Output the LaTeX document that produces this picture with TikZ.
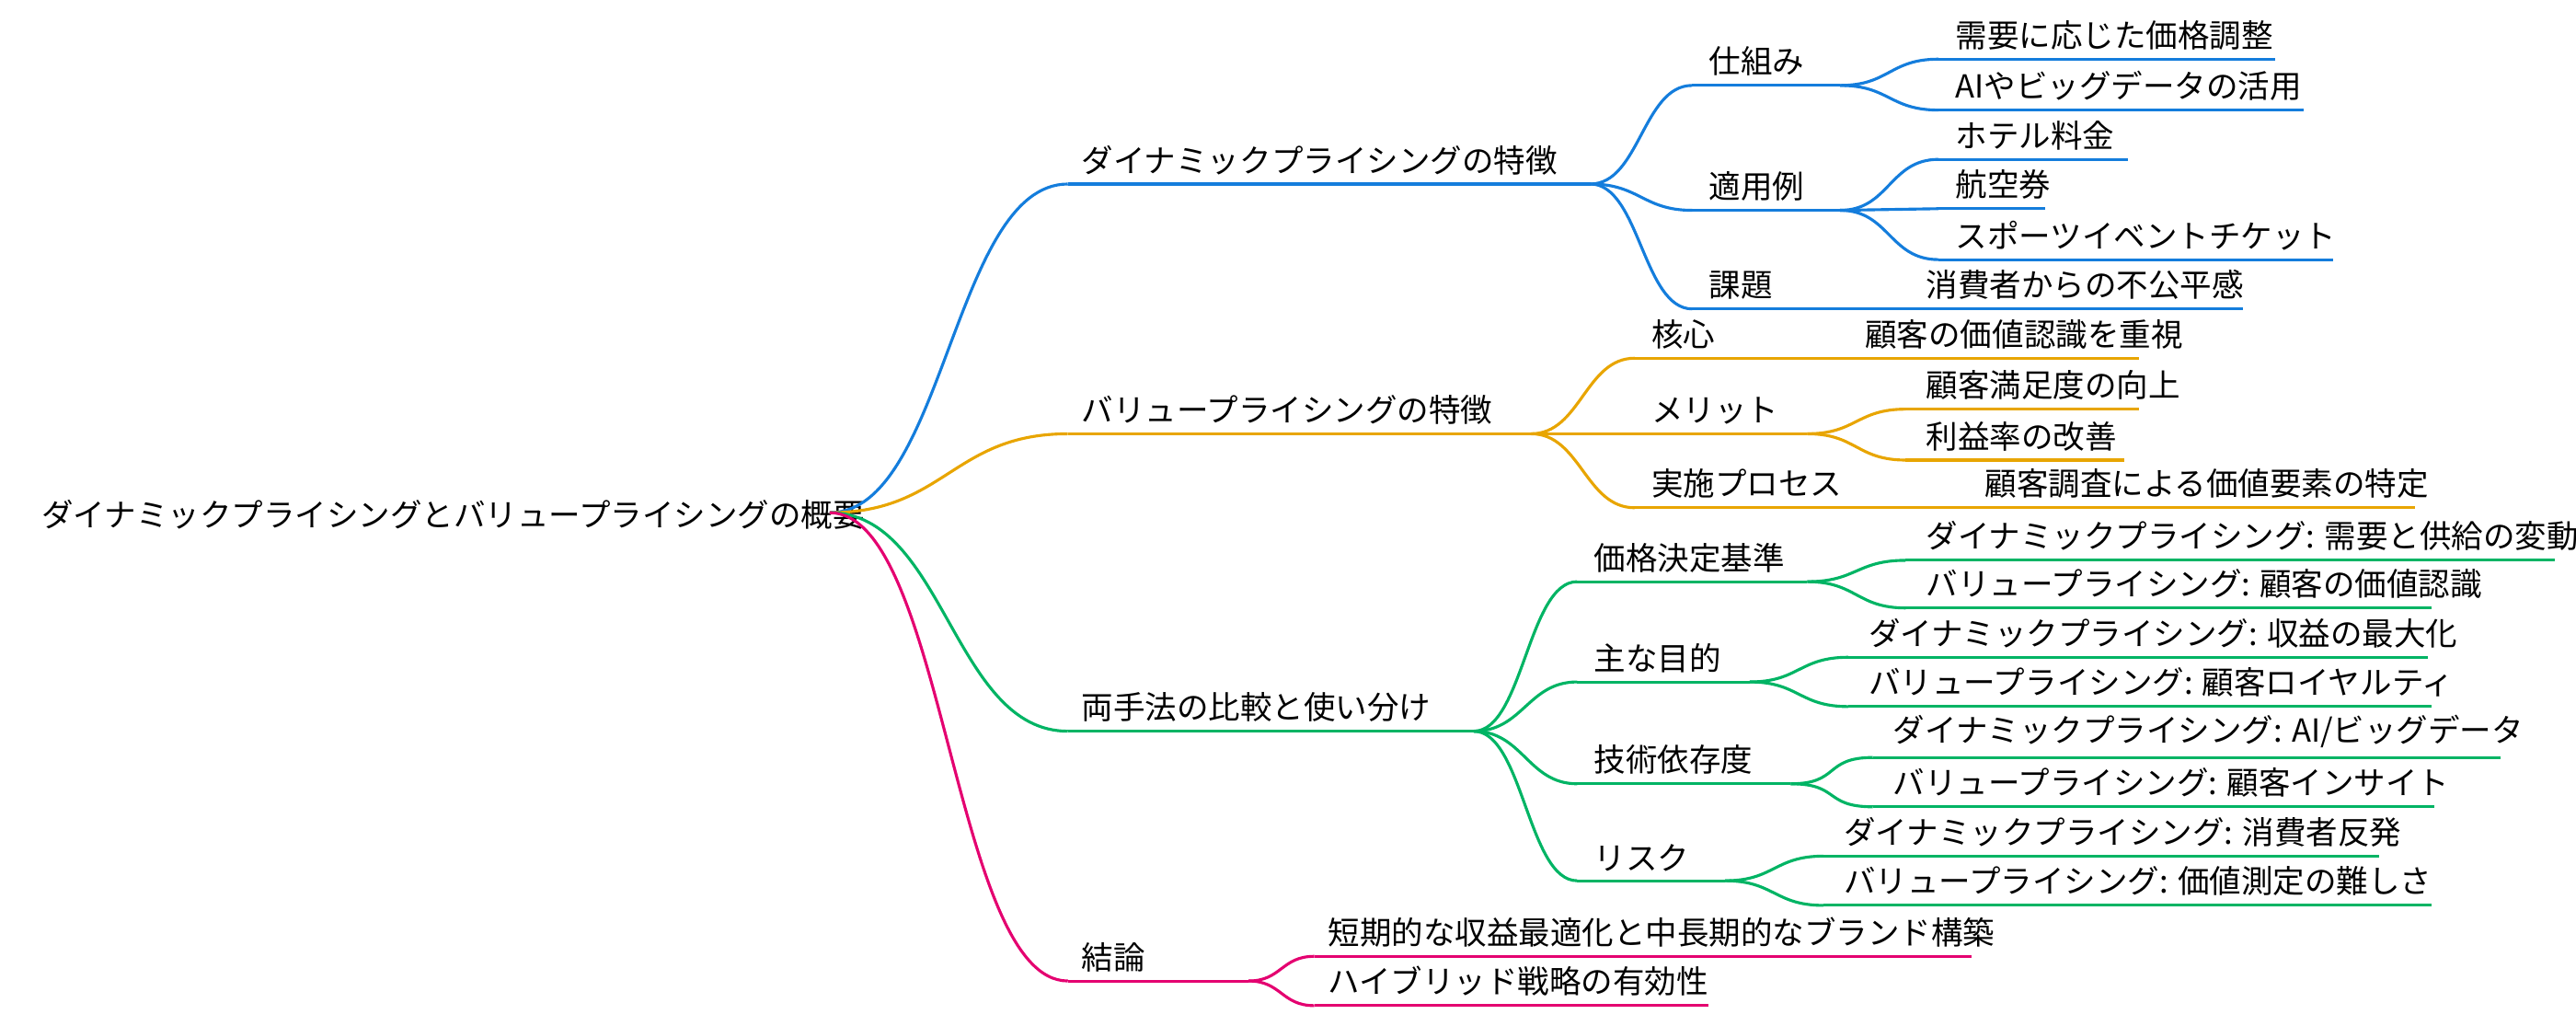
\documentclass[tikz,border=0pt]{standalone}
\usepackage{fontspec}
\setmainfont{Noto Sans CJK JP}
\definecolor{cblue}{RGB}{20,125,220}
\definecolor{corange}{RGB}{232,165,0}
\definecolor{cgreen}{RGB}{0,180,100}
\definecolor{cpink}{RGB}{228,0,112}
\tikzset{
  branch/.style={line width=1pt},
  label/.style={anchor=south west,inner xsep=0,inner ysep=3pt,font=\fontsize{11}{13}\selectfont}
}
% underline with text: name, colour, x start, x end, y, text offset, text
\newcommand{\mmtopic}[7]{%
  \coordinate (#1-w) at (#3,#5);
  \coordinate (#1-e) at (#4,#5);
  \draw[branch,#2] (#1-w) -- (#1-e);
  \node[label] (#1) at (#3+#6,#5) {#7};
}
% connector from parent to child
\newcommand{\mmlink}[4]{%
  \draw[branch,#3] (#1-e) .. controls +(#4,0) and +(-#4,0) .. (#2-w);
}

\begin{document}
\begin{tikzpicture}[x=0.02cm,y=-0.02cm]
\useasboundingbox (0,0) rectangle (1568,624);
% Root
\node[anchor=west,inner sep=0,font=\fontsize{11}{13}\selectfont] (root) at (25,313) {ダイナミックプライシングとバリュープライシングの概要};
\coordinate (root-e) at (505,312);
%% Dynamic pricing
\mmtopic{dyn}{cblue}{650}{968}{112}{8}{ダイナミックプライシングの特徴}
\mmtopic{mech}{cblue}{1030}{1120}{52}{10}{仕組み}
\mmtopic{case}{cblue}{1030}{1120}{128}{10}{適用例}
\mmtopic{issue}{cblue}{1030}{1150}{188}{10}{課題}
\mmtopic{adj}{cblue}{1180}{1385}{36}{10}{需要に応じた価格調整}
\mmtopic{ai}{cblue}{1180}{1402}{67}{10}{AIやビッグデータの活用}
\mmtopic{hotel}{cblue}{1180}{1295}{97}{10}{ホテル料金}
\mmtopic{air}{cblue}{1180}{1245}{127}{10}{航空券}
\mmtopic{sport}{cblue}{1180}{1420}{158}{10}{スポーツイベントチケット}
\mmtopic{unfair}{cblue}{1160}{1365}{188}{12}{消費者からの不公平感}
\mmlink{root}{dyn}{cblue}{70}
\mmlink{dyn}{mech}{cblue}{30}
\mmlink{dyn}{case}{cblue}{30}
\mmlink{dyn}{issue}{cblue}{30}
\mmlink{mech}{adj}{cblue}{30}
\mmlink{mech}{ai}{cblue}{30}
\mmlink{case}{hotel}{cblue}{30}
\mmlink{case}{air}{cblue}{30}
\mmlink{case}{sport}{cblue}{30}
\mmlink{issue}{unfair}{cblue}{5}
%% Value pricing
\mmtopic{val}{corange}{650}{932}{264}{8}{バリュープライシングの特徴}
\mmtopic{core}{corange}{995}{1100}{218}{10}{核心}
\mmtopic{merit}{corange}{995}{1100}{264}{10}{メリット}
\mmtopic{proc}{corange}{995}{1170}{309}{10}{実施プロセス}
\mmtopic{perc}{corange}{1100}{1302}{218}{35}{顧客の価値認識を重視}
\mmtopic{sat}{corange}{1160}{1302}{249}{12}{顧客満足度の向上}
\mmtopic{margin}{corange}{1160}{1293}{280}{12}{利益率の改善}
\mmtopic{survey}{corange}{1170}{1470}{309}{38}{顧客調査による価値要素の特定}
\mmlink{root}{val}{corange}{70}
\mmlink{val}{core}{corange}{30}
\mmlink{val}{merit}{corange}{30}
\mmlink{val}{proc}{corange}{30}
\mmlink{merit}{sat}{corange}{30}
\mmlink{merit}{margin}{corange}{30}
%% Comparison
\mmtopic{cmp}{cgreen}{650}{897}{445}{8}{両手法の比較と使い分け}
\mmtopic{basis}{cgreen}{960}{1100}{354}{10}{価格決定基準}
\mmtopic{goal}{cgreen}{960}{1065}{415}{10}{主な目的}
\mmtopic{tech}{cgreen}{960}{1090}{477}{10}{技術依存度}
\mmtopic{risk}{cgreen}{960}{1050}{536}{10}{リスク}
\mmtopic{basisA}{cgreen}{1160}{1555}{341}{12}{ダイナミックプライシング: 需要と供給の変動}
\mmtopic{basisB}{cgreen}{1160}{1480}{370}{12}{バリュープライシング: 顧客の価値認識}
\mmtopic{goalA}{cgreen}{1125}{1478}{400}{12}{ダイナミックプライシング: 収益の最大化}
\mmtopic{goalB}{cgreen}{1125}{1480}{430}{12}{バリュープライシング: 顧客ロイヤルティ}
\mmtopic{techA}{cgreen}{1140}{1522}{461}{12}{ダイナミックプライシング: AI/ビッグデータ}
\mmtopic{techB}{cgreen}{1140}{1482}{491}{12}{バリュープライシング: 顧客インサイト}
\mmtopic{riskA}{cgreen}{1110}{1448}{521}{12}{ダイナミックプライシング: 消費者反発}
\mmtopic{riskB}{cgreen}{1110}{1480}{551}{12}{バリュープライシング: 価値測定の難しさ}
\mmlink{root}{cmp}{cgreen}{70}
\foreach \c in {basis,goal,tech,risk} {\mmlink{cmp}{\c}{cgreen}{30}}
\foreach \c in {basis,goal,tech,risk} {
  \mmlink{\c}{\c A}{cgreen}{30}
  \mmlink{\c}{\c B}{cgreen}{30}
}
%% Conclusion
\mmtopic{concl}{cpink}{650}{760}{597}{8}{結論}
\mmtopic{brand}{cpink}{800}{1200}{582}{8}{短期的な収益最適化と中長期的なブランド構築}
\mmtopic{hybrid}{cpink}{800}{1040}{612}{8}{ハイブリッド戦略の有効性}
\mmlink{root}{concl}{cpink}{70}
\mmlink{concl}{brand}{cpink}{20}
\mmlink{concl}{hybrid}{cpink}{20}
\end{tikzpicture}
\end{document}
